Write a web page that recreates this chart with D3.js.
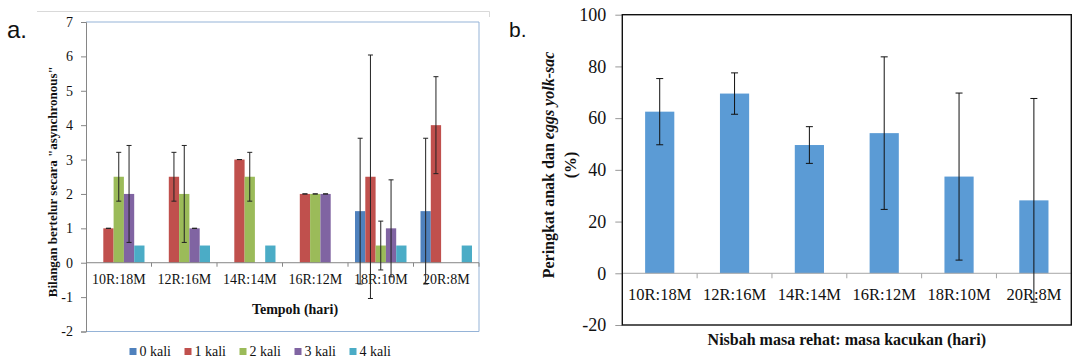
<!DOCTYPE html>
<html>
<head>
<meta charset="utf-8">
<script src="https://cdn.jsdelivr.net/npm/d3@7/dist/d3.min.js"></script>
<style>
  html, body { margin: 0; padding: 0; background: #fff; }
  svg { display: block; }
</style>
</head>
<body>
<svg id="fig" width="1072" height="358"></svg>
<script>
// ---- Panel a: eggs laid asynchronously, per number of times ----
const categories = ["10R:18M", "12R:16M", "14R:14M", "16R:12M", "18R:10M", "20R:8M"];
const seriesNames = ["0 kali", "1 kali", "2 kali", "3 kali", "4 kali"];
const kali0 = [0, 0, 0, 0, 1.5, 1.5];
const kali1 = [1, 2.5, 3, 2, 2.5, 4];
const kali2 = [2.5, 2, 2.5, 2, 0.5, 0];
const kali3 = [2, 1, 0, 2, 1, 0];
const kali4 = [0.5, 0.5, 0.5, 0, 0.5, 0.5];
// standard deviations (null = no error bar)
const err0 = [null, null, null, null, 2.12, 2.12];
const err1 = [0, 0.71, 0, 0, 3.54, 1.41];
const err2 = [0.71, 1.41, 0.71, 0, 0.71, null];
const err3 = [1.41, 0, null, 0, 1.41, null];
const err4 = [null, null, null, null, null, null];
const yTicksA = [-2, -1, 0, 1, 2, 3, 4, 5, 6, 7];

// ---- Panel b: percentage of larvae and yolk-sac eggs ----
const ratesB = [62.5, 69.5, 49.6, 54.2, 37.4, 28.2];
const errB = [12.8, 8, 7.1, 29.5, 32.3, 39.4];
const yTicksB = [-20, 0, 20, 40, 60, 80, 100];

const seriesColors = ["#4F81BD", "#C0504D", "#9BBB59", "#8064A2", "#4BACC6"];
const barColorB = "#5B9BD5";

const SERIF = "'Liberation Serif', 'Times New Roman', serif";
const SANS = "'Liberation Sans', Arial, sans-serif";

const svg = d3.select("#fig");

// ================= Panel a =================
const A = { left: 86, right: 479, top: 22, bottom: 331.5 };
const series = seriesNames.map((name, i) => ({
  name,
  color: seriesColors[i],
  values: [kali0, kali1, kali2, kali3, kali4][i],
  errs: [err0, err1, err2, err3, err4][i]
}));

const xA = d3.scaleBand().domain(categories).range([A.left, A.right]).paddingInner(0).paddingOuter(0);
const xInner = d3.scaleBand().domain(seriesNames).range([0, xA.bandwidth()]).paddingInner(0).paddingOuter(0.68);
const yA = d3.scaleLinear().domain([-2, 7]).range([A.bottom, A.top]);

const gA = svg.append("g").attr("font-family", SERIF);

// outer chart frame line
gA.append("path")
  .attr("d", "M37,11.5 H489.5 V17")
  .attr("fill", "none").attr("stroke", "#D9D9D9").attr("stroke-width", 1);

// plot area border (light blue)
gA.append("path")
  .attr("d", `M${A.left},${A.top} H${A.right} V${A.bottom} H${A.left}`)
  .attr("fill", "none").attr("stroke", "#95B3D7").attr("stroke-width", 1);

// y axis
const axA = gA.append("g")
  .attr("transform", `translate(${A.left},0)`)
  .call(d3.axisLeft(yA).tickValues(yTicksA).tickSize(5).tickPadding(8).tickFormat(d => String(d)));
axA.attr("font-family", SERIF);
axA.select(".domain").attr("stroke", "#868686");
axA.selectAll(".tick line").attr("stroke", "#868686");
axA.selectAll(".tick text").attr("font-size", 14).attr("fill", "#111");

// bars
series.forEach(s => {
  gA.append("g").selectAll("rect")
    .data(categories.map((c, i) => ({ c, v: s.values[i] })))
    .join("rect")
    .attr("x", d => xA(d.c) + xInner(s.name))
    .attr("width", xInner.bandwidth())
    .attr("y", d => yA(Math.max(0, d.v)))
    .attr("height", d => Math.abs(yA(d.v) - yA(0)))
    .attr("fill", s.color);
});

// zero line with category tick marks
gA.append("line")
  .attr("x1", A.left).attr("x2", A.right)
  .attr("y1", yA(0)).attr("y2", yA(0))
  .attr("stroke", "#868686");
gA.append("g").selectAll("line")
  .data(categories.slice(1).concat(["__end"]))
  .join("line")
  .attr("x1", d => d === "__end" ? A.right : xA(d))
  .attr("x2", d => d === "__end" ? A.right : xA(d))
  .attr("y1", yA(0)).attr("y2", yA(0) + 4)
  .attr("stroke", "#868686");

// category labels
gA.append("g").selectAll("text")
  .data(categories)
  .join("text")
  .attr("x", d => xA(d) + xA.bandwidth() / 2)
  .attr("y", 284)
  .attr("text-anchor", "middle")
  .attr("font-size", 14)
  .attr("fill", "#111")
  .text(d => d);

// error bars
series.forEach(s => {
  const cx = c => xA(c) + xInner(s.name) + xInner.bandwidth() / 2;
  const data = categories.map((c, i) => ({ c, v: s.values[i], e: s.errs[i] })).filter(d => d.e !== null);
  const g = gA.append("g").attr("stroke", "#222").attr("stroke-width", 1);
  data.forEach(d => {
    const x = cx(d.c), y1 = yA(d.v + d.e), y0 = yA(d.v - d.e);
    g.append("line").attr("x1", x).attr("x2", x).attr("y1", y1).attr("y2", y0);
    g.append("line").attr("x1", x - 2.5).attr("x2", x + 2.5).attr("y1", y1).attr("y2", y1);
    g.append("line").attr("x1", x - 2.5).attr("x2", x + 2.5).attr("y1", y0).attr("y2", y0);
  });
});

// axis titles
gA.append("text")
  .attr("transform", `translate(56.5,${(A.top + A.bottom) / 2 + 5}) rotate(-90)`)
  .attr("text-anchor", "middle")
  .attr("font-size", 13).attr("font-weight", "bold").attr("fill", "#111")
  .text("Bilangan bertelur secara \"asynchronous\"");
gA.append("text")
  .attr("x", 295).attr("y", 314)
  .attr("text-anchor", "middle")
  .attr("font-size", 14).attr("font-weight", "bold").attr("fill", "#111")
  .text("Tempoh (hari)");

// legend
const legend = gA.append("g").selectAll("g")
  .data(series)
  .join("g")
  .attr("transform", (d, i) => `translate(${129.5 + i * 55},0)`);
legend.append("rect")
  .attr("x", 0).attr("y", 348).attr("width", 7).attr("height", 7)
  .attr("fill", d => d.color);
legend.append("text")
  .attr("x", 10).attr("y", 356)
  .attr("font-size", 14).attr("fill", "#111")
  .text(d => d.name);

// panel letter
svg.append("text")
  .attr("x", 7).attr("y", 38)
  .attr("font-family", SANS)
  .attr("font-size", 24).attr("fill", "#111")
  .text("a.");

// ================= Panel b =================
const B = { left: 622.3, right: 1071.3, top: 14.7, bottom: 325 };
const xB = d3.scaleBand().domain(categories).range([B.left, B.right]).paddingInner(0.61).paddingOuter(0.305);
const xBStep = d3.scaleBand().domain(categories).range([B.left, B.right]);
const yB = d3.scaleLinear().domain([-20, 100]).range([B.bottom, B.top]);

const gB = svg.append("g").attr("font-family", SERIF);

// y axis ticks
const axB = gB.append("g")
  .attr("transform", `translate(${B.left},0)`)
  .call(d3.axisLeft(yB).tickValues(yTicksB).tickSize(7).tickPadding(9).tickFormat(d => String(d)));
axB.attr("font-family", SERIF);
axB.select(".domain").remove();
axB.selectAll(".tick line").attr("stroke", "#999");
axB.selectAll(".tick text").attr("font-size", 18).attr("fill", "#111");

// bars
gB.append("g").selectAll("rect")
  .data(categories.map((c, i) => ({ c, v: ratesB[i] })))
  .join("rect")
  .attr("x", d => xB(d.c))
  .attr("width", xB.bandwidth())
  .attr("y", d => yB(Math.max(0, d.v)))
  .attr("height", d => Math.abs(yB(d.v) - yB(0)))
  .attr("fill", barColorB);

// zero line with category tick marks
gB.append("line")
  .attr("x1", B.left).attr("x2", B.right)
  .attr("y1", yB(0)).attr("y2", yB(0))
  .attr("stroke", "#A6A6A6");
gB.append("g").selectAll("line")
  .data(categories.slice(1))
  .join("line")
  .attr("x1", d => xBStep(d)).attr("x2", d => xBStep(d))
  .attr("y1", yB(0)).attr("y2", yB(0) + 5)
  .attr("stroke", "#A6A6A6");

// category labels
gB.append("g").selectAll("text")
  .data(categories)
  .join("text")
  .attr("x", d => xB(d) + xB.bandwidth() / 2)
  .attr("y", 300)
  .attr("text-anchor", "middle")
  .attr("font-size", 16.5)
  .attr("fill", "#111")
  .text(d => d);

// error bars
const eg = gB.append("g").attr("stroke", "#111").attr("stroke-width", 1);
categories.forEach((c, i) => {
  const x = xB(c) + xB.bandwidth() / 2;
  const y1 = yB(ratesB[i] + errB[i]), y0 = yB(ratesB[i] - errB[i]);
  eg.append("line").attr("x1", x).attr("x2", x).attr("y1", y1).attr("y2", y0);
  eg.append("line").attr("x1", x - 3.5).attr("x2", x + 3.5).attr("y1", y1).attr("y2", y1);
  eg.append("line").attr("x1", x - 3.5).attr("x2", x + 3.5).attr("y1", y0).attr("y2", y0);
});

// plot area frame
gB.append("rect")
  .attr("x", B.left).attr("y", B.top)
  .attr("width", B.right - B.left).attr("height", B.bottom - B.top)
  .attr("fill", "none").attr("stroke", "#111").attr("stroke-width", 1.4);

// axis titles
const yTitleB = gB.append("text")
  .attr("transform", `translate(554,${165}) rotate(-90)`)
  .attr("text-anchor", "middle")
  .attr("font-size", 16).attr("font-weight", "bold").attr("fill", "#111");
yTitleB.append("tspan").text("Peringkat anak dan ");
yTitleB.append("tspan").attr("font-style", "italic").text("eggs yolk-sac");
gB.append("text")
  .attr("transform", `translate(576,${165}) rotate(-90)`)
  .attr("text-anchor", "middle")
  .attr("font-size", 16).attr("font-weight", "bold").attr("fill", "#111")
  .text("(%)");
gB.append("text")
  .attr("x", (B.left + B.right) / 2).attr("y", 345)
  .attr("text-anchor", "middle")
  .attr("font-size", 16).attr("font-weight", "bold").attr("fill", "#111")
  .text("Nisbah masa rehat: masa kacukan (hari)");

// panel letter
svg.append("text")
  .attr("x", 509).attr("y", 37)
  .attr("font-family", SANS)
  .attr("font-size", 21).attr("fill", "#111")
  .text("b.");
</script>
</body>
</html>
